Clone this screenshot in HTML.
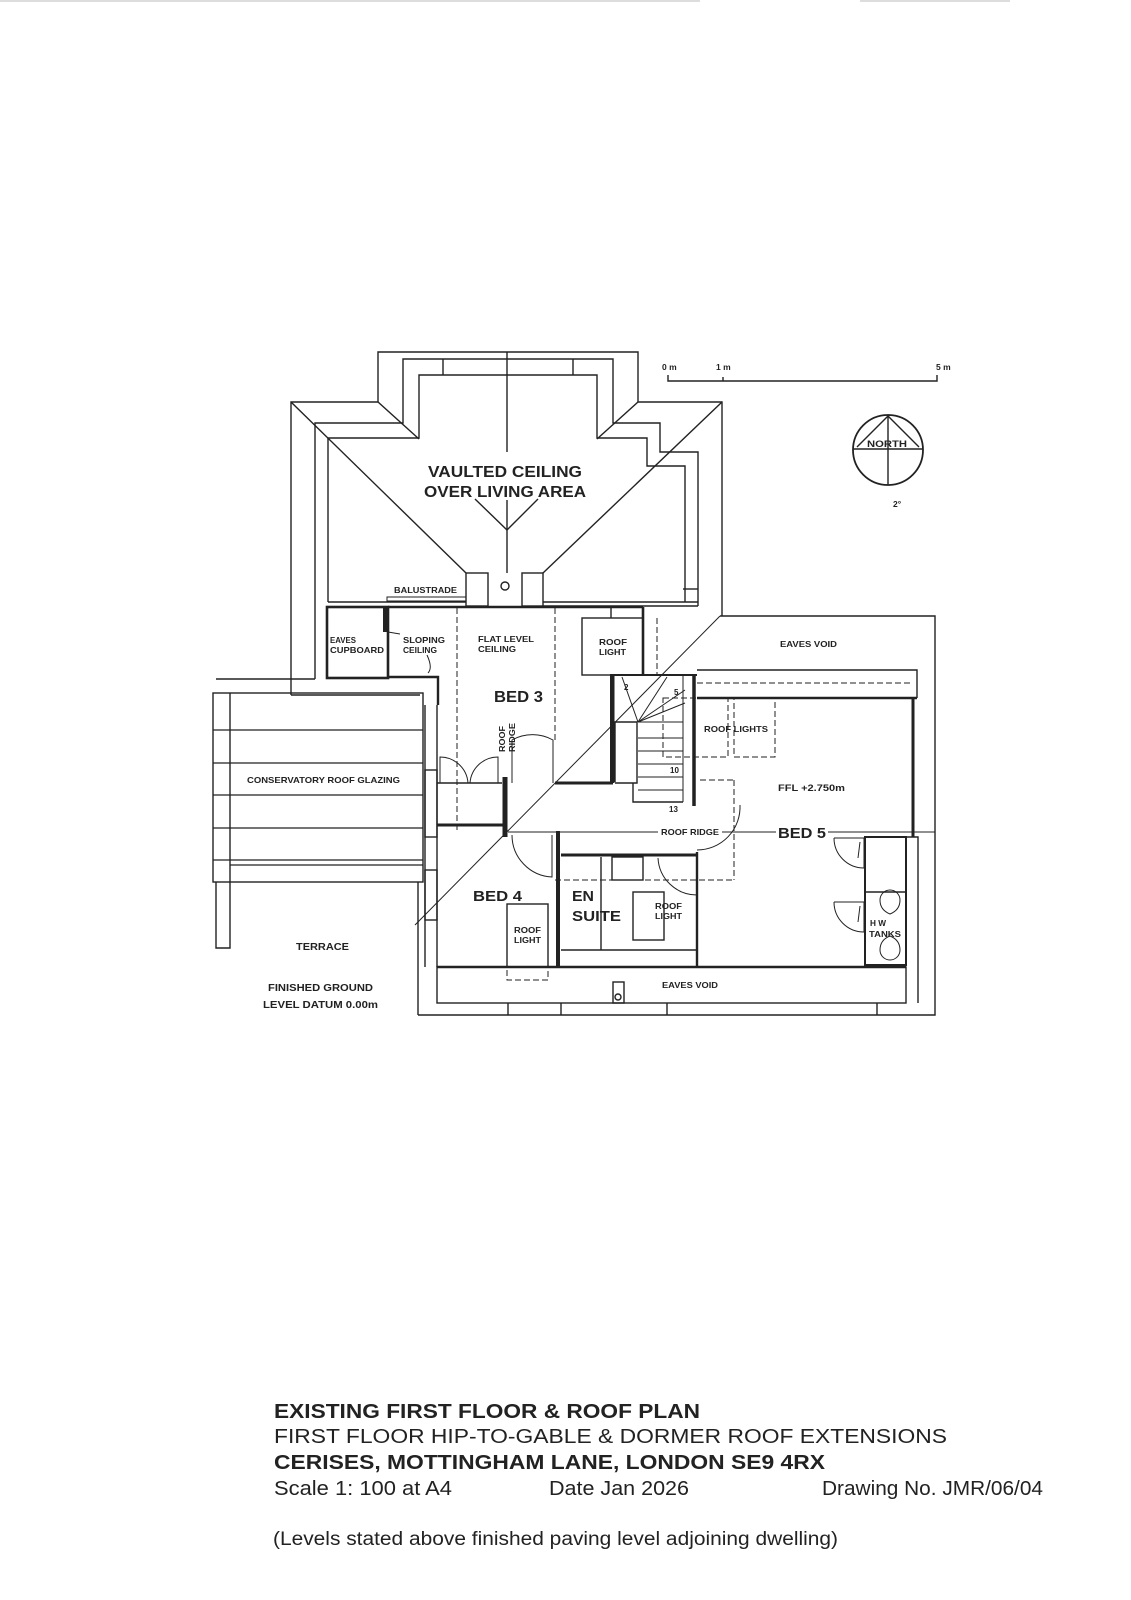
<!DOCTYPE html>
<html><head><meta charset="utf-8"><style>
html,body{margin:0;padding:0;background:#fff}
svg{display:block}
text{font-family:"Liberation Sans",Arial,sans-serif;fill:#222}
.b{font-weight:bold}
</style></head><body>
<svg width="1131" height="1600" viewBox="0 0 1131 1600" xmlns="http://www.w3.org/2000/svg">
<g stroke="#bbb" stroke-width="1"><line x1="0" y1="1" x2="700" y2="1"/><line x1="860" y1="1" x2="1010" y2="1"/></g>
<g fill="none" stroke="#222" stroke-width="1.4" stroke-linejoin="miter">
<!-- roof outline top -->
<polyline points="291,695 291,402 378,402 378,352 638,352 638,402 722,402 722,616"/>
<line x1="291" y1="402" x2="466" y2="573"/>
<line x1="722" y1="402" x2="543" y2="573"/>
<line x1="378" y1="402" x2="419" y2="439"/>
<line x1="638" y1="402" x2="597" y2="439"/>
<polyline points="315,679 315,423 403,423 403,359 613,359 613,423 660,423 660,452 698,452 698,606"/>
<polyline points="328,602 328,438 419,438 419,375 597,375 597,438 647,438 647,466 685,466 685,602"/>
<line x1="443" y1="359" x2="443" y2="375"/><line x1="573" y1="359" x2="573" y2="375"/>
<line x1="507" y1="352" x2="507" y2="452"/><line x1="507" y1="500" x2="507" y2="573"/>
<polyline points="475,499 507,530 538,499"/>
<line x1="683" y1="589" x2="698" y2="589"/>
<line x1="328" y1="602" x2="466" y2="602"/><line x1="543" y1="602" x2="698" y2="602"/>
<line x1="543" y1="606" x2="698" y2="606"/>
<rect x="466" y="573" width="22" height="33"/><rect x="522" y="573" width="21" height="33"/>
<circle cx="505" cy="586" r="4"/>
<!-- balustrade -->
<rect x="387" y="597" width="79" height="4" stroke-width="1"/>
<!-- left strip -->
<polyline points="216,679 315,679"/>
<polyline points="291,695 420,695"/>
<!-- conservatory -->
<rect x="213" y="693" width="210" height="189"/>
<polyline points="216,882 216,948 230,948 230,693"/>
<g stroke-width="1.2"><line x1="213" y1="730" x2="423" y2="730"/><line x1="213" y1="763" x2="423" y2="763"/><line x1="213" y1="795" x2="423" y2="795"/><line x1="213" y1="828" x2="423" y2="828"/><line x1="213" y1="860" x2="423" y2="860"/><line x1="230" y1="865" x2="423" y2="865"/></g>
<line x1="418" y1="882" x2="418" y2="1015"/>
<line x1="425" y1="705" x2="425" y2="967"/><line x1="437" y1="705" x2="437" y2="967"/>
<rect x="425" y="770" width="12" height="67"/>
<rect x="425" y="870" width="12" height="50"/>
<!-- eaves cupboard -->
<rect x="327" y="607" width="61" height="71" stroke-width="2.6"/>
<line x1="385" y1="607" x2="385" y2="632" stroke-width="4"/>
<line x1="388" y1="607" x2="643" y2="607" stroke-width="2.6"/>
<polyline points="388,677 438,677 438,705" stroke-width="2.4"/>
<path d="M388,632 L400,634 M427,655 Q433,668 428,673" stroke-width="1"/>
<!-- roof light top -->
<line x1="643" y1="607" x2="643" y2="675" stroke-width="2.6"/>
<rect x="582" y="618" width="61" height="57"/>
<line x1="611" y1="607" x2="611" y2="618"/>
<!-- big diagonal -->
<line x1="720" y1="616" x2="415" y2="925" stroke-width="1"/>
<!-- right building outer -->
<polyline points="720,616 935,616 935,1015 418,1015"/>
<rect x="437" y="967" width="469" height="36"/>
<line x1="508" y1="1003" x2="508" y2="1015"/><line x1="561" y1="1003" x2="561" y2="1015"/><line x1="667" y1="1003" x2="667" y2="1015"/><line x1="877" y1="1003" x2="877" y2="1015"/>
<rect x="613" y="982" width="11" height="21"/><circle cx="618" cy="997" r="3"/>
<!-- bed 5 -->
<polyline points="697,670 917,670 917,698"/>
<line x1="697" y1="698" x2="917" y2="698" stroke-width="2.4"/>
<line x1="913" y1="698" x2="913" y2="837" stroke-width="3"/>
<polyline points="906,837 918,837 918,1003"/>
<line x1="694" y1="675" x2="694" y2="806" stroke-width="3.5"/>
<line x1="697" y1="852" x2="697" y2="967" stroke-width="2.4"/>
<line x1="437" y1="967" x2="906" y2="967" stroke-width="2.6"/>
<rect x="865" y="837" width="41" height="128" stroke-width="2"/>
<line x1="865" y1="892" x2="906" y2="892"/>
<path d="M880,900 a10,10 0 0 1 20,0 q0,10 -10,14 q-10,-4 -10,-14 z M880,950 a10,10 0 0 0 20,0 q0,-10 -10,-14 q-10,4 -10,14" stroke-width="1"/>
<path d="M834,838 L864,838 L864,868 A30,30 0 0 1 834,838 M860,842 L858,858" stroke-width="1"/>
<path d="M834,902 L864,902 L864,932 A30,30 0 0 1 834,902 M860,906 L858,922" stroke-width="1"/>
<!-- stair -->
<polyline points="611,782 611,675 697,675" stroke-width="2"/>
<polyline points="615,782 615,722 637,722 637,783 615,783"/>
<polyline points="633,783 633,802 683,802"/>
<g stroke-width="1"><line x1="638" y1="738" x2="683" y2="738"/><line x1="638" y1="751" x2="683" y2="751"/><line x1="638" y1="764" x2="683" y2="764"/><line x1="638" y1="777" x2="683" y2="777"/><line x1="638" y1="790" x2="683" y2="790"/><line x1="638" y1="722" x2="683" y2="722"/><line x1="638" y1="722" x2="683" y2="722"/>
<line x1="638" y1="722" x2="622" y2="677"/><line x1="638" y1="722" x2="667" y2="677"/><line x1="638" y1="722" x2="685" y2="703"/><line x1="638" y1="722" x2="685" y2="690"/>
<line x1="683" y1="675" x2="683" y2="802"/></g>
<!-- roof lights dashed -->
<g stroke-width="1" stroke-dasharray="6,3"><rect x="663" y="698" width="65" height="59"/><rect x="734" y="698" width="41" height="59"/><line x1="697" y1="683" x2="910" y2="683"/>
<line x1="457" y1="608" x2="457" y2="830"/><line x1="555" y1="608" x2="555" y2="740"/><line x1="657" y1="618" x2="657" y2="675"/><line x1="734" y1="780" x2="734" y2="880"/><line x1="700" y1="780" x2="734" y2="780"/><line x1="555" y1="880" x2="734" y2="880"/><rect x="507" y="967" width="41" height="13"/></g>
<!-- bed 3 walls -->
<line x1="555" y1="783" x2="613" y2="783" stroke-width="3"/>
<line x1="613" y1="783" x2="613" y2="675" stroke-width="3"/>
<line x1="437" y1="783" x2="502" y2="783"/>
<line x1="437" y1="825" x2="505" y2="825" stroke-width="3"/>
<line x1="505" y1="777" x2="505" y2="837" stroke-width="5"/>
<path d="M440,783 L440,757 A28,28 0 0 1 468,783 M498,783 L498,757 A28,28 0 0 0 470,783" stroke-width="1"/>
<path d="M512,783 L512,740 A42,42 0 0 1 553,740 L553,783 M512,783" stroke-width="1"/>
<path d="M512,835 A42,42 0 0 0 552,877 L552,835" stroke-width="1"/>
<line x1="558" y1="831" x2="558" y2="967" stroke-width="4"/>
<line x1="561" y1="855" x2="697" y2="855" stroke-width="3"/>
<path d="M658,858 A39,39 0 0 0 697,895" stroke-width="1"/>
<path d="M740,805 A43,43 0 0 1 697,850" stroke-width="1"/>
<!-- roof ridge line -->
<line x1="508" y1="832" x2="658" y2="832" stroke-width="1"/><line x1="722" y1="832" x2="776" y2="832" stroke-width="1"/><line x1="828" y1="832" x2="935" y2="832" stroke-width="1"/>
<!-- ensuite internals -->
<line x1="601" y1="857" x2="601" y2="950"/><rect x="612" y="857" width="31" height="23"/>
<rect x="633" y="892" width="31" height="48"/><line x1="561" y1="950" x2="697" y2="950"/>
<rect x="507" y="904" width="41" height="63"/>
<!-- scale bar -->
<polyline points="668,375 668,381 937,381 937,375"/><line x1="723" y1="377" x2="723" y2="381"/>
<!-- north -->
<circle cx="888" cy="450" r="35" stroke-width="1.8"/>
<line x1="853" y1="449" x2="923" y2="449"/><line x1="888" y1="415" x2="888" y2="485"/>
<polyline points="857,447 888,416 919,447"/>
</g>
<g class="b">
<text x="428" y="477" font-size="16" textLength="154" lengthAdjust="spacingAndGlyphs">VAULTED CEILING</text>
<text x="424" y="497" font-size="16" textLength="162" lengthAdjust="spacingAndGlyphs">OVER LIVING AREA</text>
<text x="394" y="593" font-size="8" textLength="63" lengthAdjust="spacingAndGlyphs">BALUSTRADE</text>
<text x="330" y="643" font-size="8.5" textLength="26" lengthAdjust="spacingAndGlyphs">EAVES</text>
<text x="330" y="653" font-size="8.5" textLength="54" lengthAdjust="spacingAndGlyphs">CUPBOARD</text>
<text x="403" y="643" font-size="8.5" textLength="42" lengthAdjust="spacingAndGlyphs">SLOPING</text>
<text x="403" y="653" font-size="8.5" textLength="34" lengthAdjust="spacingAndGlyphs">CEILING</text>
<text x="478" y="642" font-size="8.5" textLength="56" lengthAdjust="spacingAndGlyphs">FLAT LEVEL</text>
<text x="478" y="652" font-size="8.5" textLength="38" lengthAdjust="spacingAndGlyphs">CEILING</text>
<text x="599" y="645" font-size="8.5" textLength="28" lengthAdjust="spacingAndGlyphs">ROOF</text>
<text x="599" y="655" font-size="8.5" textLength="27" lengthAdjust="spacingAndGlyphs">LIGHT</text>
<text x="780" y="647" font-size="8.5" textLength="57" lengthAdjust="spacingAndGlyphs">EAVES VOID</text>
<text x="494" y="702" font-size="16" textLength="49" lengthAdjust="spacingAndGlyphs">BED 3</text>
<text transform="translate(505,752) rotate(-90)" font-size="8" textLength="26" lengthAdjust="spacingAndGlyphs">ROOF</text>
<text transform="translate(515,752) rotate(-90)" font-size="8" textLength="29" lengthAdjust="spacingAndGlyphs">RIDGE</text>
<text x="624" y="690" font-size="8">2</text>
<text x="674" y="695" font-size="8">5</text>
<text x="670" y="773" font-size="8">10</text>
<text x="669" y="812" font-size="8">13</text>
<text x="704" y="732" font-size="8.5" textLength="64" lengthAdjust="spacingAndGlyphs">ROOF LIGHTS</text>
<text x="778" y="791" font-size="9" textLength="67" lengthAdjust="spacingAndGlyphs">FFL +2.750m</text>
<text x="661" y="835" font-size="8.5" textLength="58" lengthAdjust="spacingAndGlyphs">ROOF RIDGE</text>
<text x="778" y="838" font-size="15" textLength="48" lengthAdjust="spacingAndGlyphs">BED 5</text>
<text x="473" y="901" font-size="15" textLength="49" lengthAdjust="spacingAndGlyphs">BED 4</text>
<text x="572" y="901" font-size="15" textLength="22" lengthAdjust="spacingAndGlyphs">EN</text>
<text x="572" y="921" font-size="15" textLength="49" lengthAdjust="spacingAndGlyphs">SUITE</text>
<text x="655" y="909" font-size="8" textLength="27" lengthAdjust="spacingAndGlyphs">ROOF</text>
<text x="655" y="919" font-size="8" textLength="27" lengthAdjust="spacingAndGlyphs">LIGHT</text>
<text x="514" y="933" font-size="8" textLength="27" lengthAdjust="spacingAndGlyphs">ROOF</text>
<text x="514" y="943" font-size="8" textLength="27" lengthAdjust="spacingAndGlyphs">LIGHT</text>
<text x="870" y="926" font-size="8" textLength="16" lengthAdjust="spacingAndGlyphs">H W</text>
<text x="869" y="937" font-size="8" textLength="32" lengthAdjust="spacingAndGlyphs">TANKS</text>
<text x="662" y="988" font-size="8.5" textLength="56" lengthAdjust="spacingAndGlyphs">EAVES VOID</text>
<text x="247" y="783" font-size="8.5" textLength="153" lengthAdjust="spacingAndGlyphs">CONSERVATORY ROOF GLAZING</text>
<text x="296" y="950" font-size="10" textLength="53" lengthAdjust="spacingAndGlyphs">TERRACE</text>
<text x="268" y="991" font-size="10" textLength="105" lengthAdjust="spacingAndGlyphs">FINISHED GROUND</text>
<text x="263" y="1008" font-size="10" textLength="115" lengthAdjust="spacingAndGlyphs">LEVEL DATUM 0.00m</text>
<text x="662" y="370" font-size="8.5">0 m</text>
<text x="716" y="370" font-size="8.5">1 m</text>
<text x="936" y="370" font-size="8.5">5 m</text>
<text x="867" y="447" font-size="9" textLength="40" lengthAdjust="spacingAndGlyphs">NORTH</text>
<text x="893" y="507" font-size="8.5">2°</text>
<text x="274" y="1418" font-size="20" textLength="426" lengthAdjust="spacingAndGlyphs">EXISTING FIRST FLOOR &amp; ROOF PLAN</text>
<text x="274" y="1469" font-size="20" textLength="551" lengthAdjust="spacingAndGlyphs">CERISES, MOTTINGHAM LANE, LONDON SE9 4RX</text>
</g>
<text x="274" y="1443" font-size="20" textLength="673" lengthAdjust="spacingAndGlyphs">FIRST FLOOR HIP-TO-GABLE &amp; DORMER ROOF EXTENSIONS</text>
<text x="274" y="1495" font-size="20" textLength="178" lengthAdjust="spacingAndGlyphs">Scale  1: 100 at A4</text>
<text x="549" y="1495" font-size="20" textLength="140" lengthAdjust="spacingAndGlyphs">Date  Jan 2026</text>
<text x="822" y="1495" font-size="20" textLength="221" lengthAdjust="spacingAndGlyphs">Drawing No. JMR/06/04</text>
<text x="273" y="1545" font-size="19" textLength="565" lengthAdjust="spacingAndGlyphs">(Levels stated above finished paving level adjoining dwelling)</text>
</svg>
</body></html>
